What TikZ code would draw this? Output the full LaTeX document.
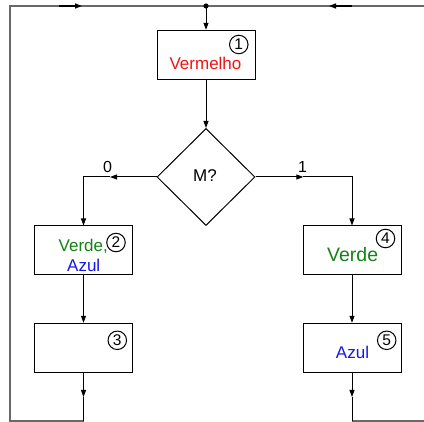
\documentclass[tikz,border=0pt]{standalone}
\usepackage{fontspec}
\setmainfont{Liberation Sans}
\usetikzlibrary{shapes.geometric,arrows.meta}
\definecolor{vred}{RGB}{240,20,20}
\definecolor{vgreen}{RGB}{20,130,20}
\definecolor{vblue}{RGB}{20,20,240}
\definecolor{frame}{RGB}{105,105,105}
\begin{document}
\begin{tikzpicture}[x=1pt,y=-1pt,
  box/.style={draw=black,line width=1pt,minimum width=98pt,minimum height=49pt,inner sep=0pt},
  dia/.style={draw=black,line width=1pt,shape=diamond,minimum width=98pt,minimum height=97pt,inner sep=0pt},
  conn/.style={draw=black,line width=1pt},
  arr/.style={conn,-{Triangle[length=7pt,width=5pt]}},
  outer/.style={draw=frame,line width=2pt},
  num/.style={draw=black,circle,line width=1pt,minimum size=18.5pt,inner sep=0pt,font=\fontsize{15.5}{15.5}\selectfont},
  txt/.style={anchor=base,inner sep=0pt,font=\fontsize{17}{17}\selectfont},
  lab/.style={anchor=base,inner sep=0pt,font=\fontsize{16}{16}\selectfont}]
\useasboundingbox (0,0) rectangle (424,422);
\fill[white] (0,0) rectangle (424,422);
% nodes
\node[box] (b1) at (206,54.8) {};
\node[dia] (dm) at (206,177) {};
\node[box] (b2) at (83.5,250.5) {};
\node[box] (b3) at (83.5,347.8) {};
\node[box] (b4) at (352,250.5) {};
\node[box] (b5) at (352,347.8) {};
% texts
\node[txt,text=vred] (t1) at (205.5,70) {Vermelho};
\node[txt] (tm) at (205,182) {M?};
\node[txt,text=vgreen,anchor=base west] (t2a) at (58.5,252) {Verde,};
\node[txt,text=vblue,anchor=base west] (t2b) at (67,272) {Azul};
\node[txt,text=vgreen,anchor=base west,font=\fontsize{19.5}{19.5}\selectfont] (t4) at (327,261.5) {Verde};
\node[txt,text=vblue] (t5) at (352.5,358.3) {Azul};
\node[lab] (l0) at (107.5,172.3) {0};
\node[lab] (l1) at (302.5,172.3) {1};
\node[num] (n1) at (238.8,44.5) {1};
\node[num] (n2) at (116,242.5) {2};
\node[num] (n3) at (117.3,340.3) {3};
\node[num] (n4) at (385.5,238.5) {4};
\node[num] (n5) at (386.7,340.3) {5};
% coordinates
\coordinate (jt) at (206,6);
\coordinate (tl) at (10,6);
\coordinate (tr) at (424,6);
\coordinate (bl) at (10,421);
\coordinate (lbot) at (83.5,421);
\coordinate (rbot) at (352,421);
\coordinate (brr) at (424,421);
\coordinate (lb) at (83.5,177);
\coordinate (rb) at (352,177);
\coordinate (a0) at (110,177);
\coordinate (a1) at (303.3,177);
\coordinate (la) at (83.5,397);
\coordinate (ra) at (352,397);
\coordinate (ta1s) at (59,6);
\coordinate (ta1) at (82,6);
\coordinate (ta2s) at (352,6);
\coordinate (ta2) at (329,6);
% outer frame (gray)
\draw[outer] (tr) -- (tl) -- (bl) -- (lbot);
\draw[outer] (rbot) -- (brr);
% top arrows
\draw[arr,line width=1.5pt] (ta1s) -- (ta1);
\draw[arr,line width=1.5pt] (ta2s) -- (ta2);
\fill (jt) circle (2.6pt);
% connectors
\draw[arr] (jt) -- (b1.north);
\draw[arr] (b1.south) -- (dm.north);
\draw[arr] (dm.west) -- (a0);
\draw[arr] (a0) -- (lb) -- (b2.north);
\draw[arr] (dm.east) -- (a1);
\draw[arr] (a1) -- (rb) -- (b4.north);
\draw[arr] (b2.south) -- (b3.north);
\draw[arr] (b4.south) -- (b5.north);
\draw[arr] (b3.south) -- (la);
\draw[conn] (la) -- (lbot);
\draw[arr] (b5.south) -- (ra);
\draw[conn] (ra) -- (rbot);
\end{tikzpicture}
\end{document}
